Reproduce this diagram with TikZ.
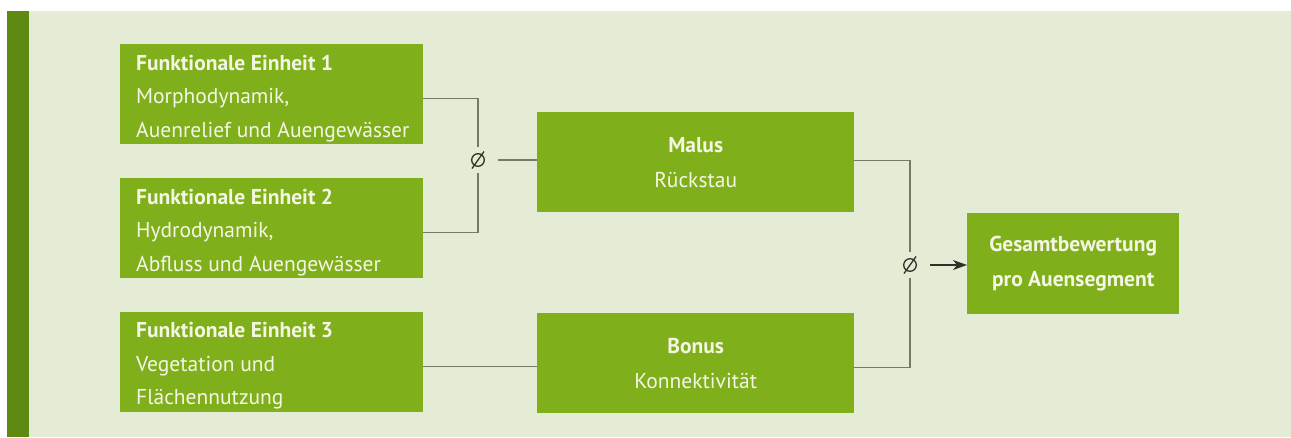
\documentclass[tikz,border=0pt]{standalone}
\usepackage{fontspec}
\setmainfont{PT Sans}
\usetikzlibrary{arrows.meta}
\definecolor{bg}{HTML}{E4ECD5}
\definecolor{stripe}{HTML}{5E8A14}
\definecolor{boxgreen}{HTML}{80AF1C}
\definecolor{boxtext}{HTML}{F4F6E4}
\definecolor{wire}{HTML}{737A6C}
\definecolor{signcol}{HTML}{2E3328}

\begin{document}
\begin{tikzpicture}[x=1pt,y=-1pt,
  box/.style={fill=boxgreen, draw=none, inner sep=0pt, anchor=north west},
  unitbox/.style={box, minimum width=303pt, minimum height=100pt},
  unittext/.style={anchor=north west, inner sep=0pt, text=boxtext, align=left,
    font=\fontsize{21.5}{33.5}\selectfont},
  midbox/.style={box, minimum width=317pt, minimum height=100pt, text=boxtext,
    align=center, font=\fontsize{21.5}{35}\selectfont},
  wireline/.style={draw=wire, line width=1.2pt},
  % diameter sign: circle with a slash, drawn inside the node
  avg/.style={inner sep=0pt, minimum width=40pt, minimum height=26pt,
    path picture={
      \draw[draw=signcol, line width=1.3pt]
        (path picture bounding box.center) circle[radius=6.3pt];
      \draw[draw=signcol, line width=1.3pt]
        ([xshift=-6pt,yshift=-8.5pt]path picture bounding box.center) --
        ([xshift=6pt,yshift=8.5pt]path picture bounding box.center);
    }},
]
% canvas and side bar
\useasboundingbox (0,0) rectangle (1291,437);
\fill[white] (0,0) rectangle (1291,437);
\fill[bg] (7,11) rectangle (1291,437);
\fill[stripe] (7,11) rectangle (29,437);

% functional units
\node[unitbox] (fe1) at (120,44) {};
\node[unittext] (fe1t) at (136,54.5) {\textbf{Funktionale Einheit 1}\\Morphodynamik,\\Auenrelief und Auengewässer};
\node[unitbox] (fe2) at (120,178) {};
\node[unittext] (fe2t) at (136,188.5) {\textbf{Funktionale Einheit 2}\\Hydrodynamik,\\Abfluss und Auengewässer};
\node[unitbox] (fe3) at (120,312) {};
\node[unittext] (fe3t) at (136,322.5) {\textbf{Funktionale Einheit 3}\\Vegetation und\\Flächennutzung};

% malus, bonus and result
\node[midbox] (malus) at (537,112) {\textbf{Malus}\\Rückstau};
\node[midbox] (bonus) at (537,313) {\textbf{Bonus}\\Konnektivität};
\node[box, minimum width=212pt, minimum height=101pt, text=boxtext, align=center,
  font=\bfseries\fontsize{21.5}{35}\selectfont] (total) at (967,213)
  {Gesamtbewertung\\pro Auensegment};

% averaging marks
\node[avg] (avg1) at (478,160) {};
\node[avg] (avg2) at (910,265) {};

% connectors
\draw[wireline] ([yshift=-4pt]fe1.east) -| (avg1.north);
\draw[wireline] ([yshift=-4pt]fe2.east) -| (avg1.south);
\draw[wireline] (avg1.east) -- (avg1.east -| malus.west);
\draw[wireline] ([yshift=2pt]malus.east) -| (avg2.north);
\draw[wireline] ([yshift=-4pt]bonus.east) -| (avg2.south);
\draw[wireline] ([yshift=-4pt]fe3.east) -- ([yshift=-4pt]fe3.east -| bonus.west);
\draw[draw=signcol, line width=1.2pt, -{Stealth[length=14pt,width=10pt,inset=4pt]}]
  (avg2.east) -- (avg2.east -| total.west);
\end{tikzpicture}
\end{document}
